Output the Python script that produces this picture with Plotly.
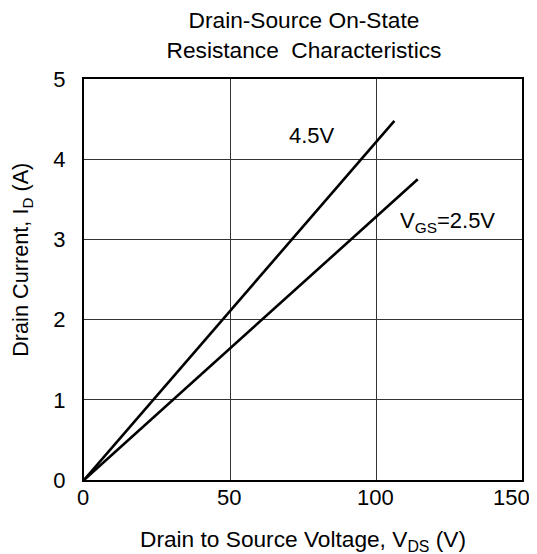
import plotly.graph_objects as go

vds_45 = [0, 106.3]
id_45 = [0, 4.48]
vds_25 = [0, 114.3]
id_25 = [0, 3.75]
x_ticks = [0, 50, 100, 150]
x_tick_labels = ["0", "50", "100", "150"]
y_ticks = [0, 1, 2, 3, 4, 5]

font = "Liberation Sans, Arial, sans-serif"
fig = go.Figure()
fig.add_trace(go.Scatter(x=vds_45, y=id_45, mode="lines", line=dict(color="black", width=2.6), showlegend=False))
fig.add_trace(go.Scatter(x=vds_25, y=id_25, mode="lines", line=dict(color="black", width=2.6), showlegend=False))

fig.add_annotation(x=78, y=4.30, text="4.5V", showarrow=False, font=dict(size=22, color="black", family=font))
fig.add_annotation(x=124.5, y=3.22, text="V<sub>GS</sub>=2.5V", showarrow=False, font=dict(size=22, color="black", family=font))

# x tick labels (last one nudged inward like the reference)
for xv, lab in zip(x_ticks, x_tick_labels):
    fig.add_annotation(x=xv, y=0, yref="y", xref="x", text=lab, showarrow=False,
                       yanchor="middle", yshift=-17, xshift=(-11 if xv == x_ticks[-1] else -1),
                       font=dict(size=22, color="black", family=font))

# axis titles as annotations for precise placement
fig.add_annotation(xref="paper", yref="paper", x=0.5, y=-0.152, yanchor="middle", xanchor="center",
                   text="Drain to Source Voltage, V<sub>DS</sub> (V)", showarrow=False,
                   font=dict(size=22.7, color="black", family=font))
fig.add_annotation(xref="paper", yref="paper", x=-0.1416, y=0.549, yanchor="middle", xanchor="center",
                   textangle=-90, text="Drain Current, I<sub>D</sub> (A)", showarrow=False,
                   font=dict(size=21.7, color="black", family=font))

fig.update_layout(
    width=529, height=546,
    margin=dict(l=76, r=15, t=71, b=74),
    paper_bgcolor="white", plot_bgcolor="white",
    font=dict(family=font, color="black", size=22),
    title=dict(text="Drain-Source On-State<br>Resistance  Characteristics", x=0.5595, xanchor="center",
               y=0.963, yanchor="middle", font=dict(size=22.7, family=font, color="black")),
)
fig.update_xaxes(range=[0, 150.001], tickvals=x_ticks, showgrid=True, gridcolor="#333", gridwidth=1.2,
                 showline=True, linecolor="black", linewidth=2, mirror=True, zeroline=False,
                 ticks="", showticklabels=False, automargin=False)
fig.update_yaxes(range=[0, 5.001], tickvals=y_ticks, showgrid=True, gridcolor="#333", gridwidth=1.2,
                 showline=True, linecolor="black", linewidth=2, mirror=True, zeroline=False,
                 ticks="", tickfont=dict(size=22), automargin=False, ticklabelstandoff=12,
                 ticklabeloverflow="allow")
fig.write_html("out.html")
